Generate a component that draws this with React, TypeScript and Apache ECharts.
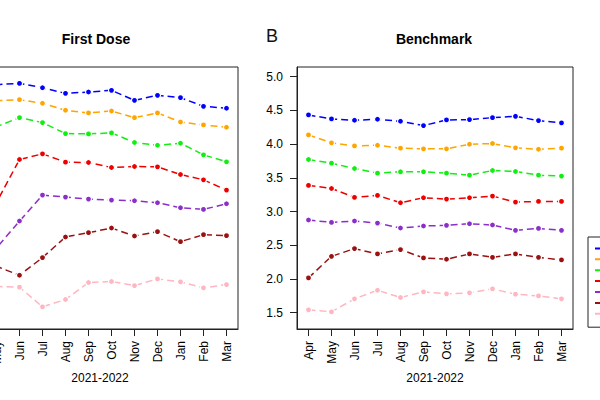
import React, { useEffect, useRef } from "react";
import * as echarts from "echarts";

const months = ["Apr", "May", "Jun", "Jul", "Aug", "Sep", "Oct", "Nov", "Dec", "Jan", "Feb", "Mar"];
const yTicks = [1.5, 2.0, 2.5, 3.0, 3.5, 4.0, 4.5, 5.0];
const groupNames = ["Group 1", "Group 2", "Group 3", "Group 4", "Group 5", "Group 6", "Group 7"];
const groupColors = ["#0000FF", "#FFA500", "#11EE11", "#EE0000", "#8B2FC9", "#991111", "#FFB6C1"];

// First Dose panel
const firstDose1 = [4.862, 4.882, 4.901, 4.837, 4.753, 4.773, 4.798, 4.650, 4.724, 4.689, 4.561, 4.532];
const firstDose2 = [4.630, 4.645, 4.660, 4.606, 4.502, 4.463, 4.492, 4.393, 4.463, 4.329, 4.285, 4.250];
const firstDose3 = [4.186, 4.260, 4.393, 4.320, 4.157, 4.152, 4.167, 4.024, 3.984, 4.014, 3.841, 3.738];
const firstDose4 = [2.929, 3.136, 3.772, 3.856, 3.733, 3.728, 3.654, 3.669, 3.664, 3.550, 3.471, 3.319];
const firstDose5 = [2.189, 2.461, 2.860, 3.245, 3.215, 3.185, 3.171, 3.161, 3.131, 3.057, 3.032, 3.116];
const firstDose6 = [2.239, 2.189, 2.056, 2.318, 2.623, 2.687, 2.756, 2.638, 2.702, 2.554, 2.658, 2.643];
const firstDose7 = [1.894, 1.889, 1.879, 1.588, 1.696, 1.948, 1.963, 1.903, 2.002, 1.958, 1.869, 1.918];

// Benchmark panel
const bench1 = [4.433, 4.374, 4.354, 4.369, 4.339, 4.275, 4.359, 4.364, 4.393, 4.413, 4.349, 4.315];
const bench2 = [4.137, 4.019, 3.974, 3.984, 3.940, 3.930, 3.930, 3.999, 4.009, 3.945, 3.925, 3.940];
const bench3 = [3.772, 3.718, 3.639, 3.570, 3.590, 3.590, 3.570, 3.540, 3.609, 3.595, 3.540, 3.526];
const bench4 = [3.388, 3.343, 3.210, 3.240, 3.131, 3.205, 3.185, 3.205, 3.230, 3.141, 3.151, 3.151];
const bench5 = [2.875, 2.840, 2.860, 2.830, 2.756, 2.786, 2.796, 2.820, 2.801, 2.722, 2.751, 2.722];
const bench6 = [2.017, 2.337, 2.451, 2.372, 2.436, 2.313, 2.293, 2.372, 2.322, 2.372, 2.322, 2.283];
const bench7 = [1.543, 1.514, 1.706, 1.834, 1.726, 1.810, 1.780, 1.795, 1.854, 1.775, 1.750, 1.706];

const firstDoseSets = [firstDose1, firstDose2, firstDose3, firstDose4, firstDose5, firstDose6, firstDose7];
const benchSets = [bench1, bench2, bench3, bench4, bench5, bench6, bench7];

const FONT = "'Liberation Sans', Arial, Helvetica, sans-serif";
const OFFSET = 60; // chart canvas starts 60px left of the page

export default function App() {
  const ref = useRef<HTMLDivElement>(null);

  useEffect(() => {
    if (!ref.current) return;
    const chart = echarts.init(ref.current, null, { renderer: "svg" });

    const makeX = (gridIndex: number) => ({
      type: "category",
      gridIndex,
      data: months,
      boundaryGap: true,
      axisLine: { show: true, lineStyle: { color: "#222", width: 1 } },
      axisTick: { show: true, alignWithLabel: true, length: 7, lineStyle: { color: "#222" } },
      axisLabel: {
        rotate: 90,
        margin: 12,
        fontSize: 12,
        color: "#000",
        fontFamily: FONT,
        // the left panel's first label lies wholly outside the picture
        interval: gridIndex === 0 ? (i: number) => i > 0 : 0,
      },
      name: "2021-2022",
      nameLocation: "middle",
      nameGap: 43,
      nameTextStyle: { fontSize: 12, color: "#000", fontFamily: FONT },
      splitLine: { show: false },
    });

    const makeY = (gridIndex: number, showLabels: boolean) => ({
      type: "value",
      gridIndex,
      min: 1.259,
      max: 5.144,
      axisLine: { show: true, lineStyle: { color: "#222", width: 1 } },
      axisTick: { show: true, length: 7, customValues: yTicks, lineStyle: { color: "#222" } },
      axisLabel: {
        show: showLabels,
        customValues: yTicks,
        formatter: (v: number) => v.toFixed(1),
        margin: 14,
        fontSize: 12,
        color: "#000",
        fontFamily: FONT,
      },
      splitLine: { show: false },
    });

    const makeSeries = (sets: number[][], axisIndex: number) =>
      sets.map((data, i) => ({
        type: "line",
        name: groupNames[i],
        xAxisIndex: axisIndex,
        yAxisIndex: axisIndex,
        data,
        color: groupColors[i],
        symbol: "circle",
        symbolSize: 6,
        showSymbol: true,
        itemStyle: { color: groupColors[i], borderColor: "#fff", borderWidth: 1.2 },
        lineStyle: { color: groupColors[i], width: 1.5, type: [7, 4] },
        emphasis: { disabled: true },
      }));

    chart.setOption({
      animation: false,
      backgroundColor: "#fff",
      textStyle: { fontFamily: FONT },
      grid: [
        { left: -38 + OFFSET, top: 67, width: 276, height: 262, show: true, borderColor: "#222", borderWidth: 1, backgroundColor: "transparent" },
        { left: 297 + OFFSET, top: 67, width: 276, height: 262, show: true, borderColor: "#222", borderWidth: 1, backgroundColor: "transparent" },
      ],
      xAxis: [makeX(0), makeX(1)],
      yAxis: [makeY(0, false), makeY(1, true)],
      legend: {
        orient: "vertical",
        left: 648,
        top: 237,
        padding: [6, 5, 8, 6],
        itemWidth: 60,
        itemHeight: 11,
        itemGap: 0.1,
        borderColor: "#222",
        borderWidth: 1,
        data: groupNames,
        formatter: () => "",
        textStyle: { fontSize: 9, lineHeight: 11, color: "#000", fontFamily: FONT },
        selectedMode: false,
      },
      graphic: [
        {
          type: "text",
          x: 96 + OFFSET,
          y: 39,
          style: { text: "First Dose", fontSize: 14, fontWeight: "bold", fontFamily: FONT, fill: "#000", textAlign: "center", textVerticalAlign: "middle" },
        },
        {
          type: "text",
          x: 434 + OFFSET,
          y: 39,
          style: { text: "Benchmark", fontSize: 14, fontWeight: "bold", fontFamily: FONT, fill: "#000", textAlign: "center", textVerticalAlign: "middle" },
        },
        {
          type: "text",
          x: 272 + OFFSET,
          y: 36,
          style: { text: "B", fontSize: 18, fontFamily: "'Liberation Sans Narrow', 'Liberation Sans', Arial, sans-serif", fill: "#111", textAlign: "center", textVerticalAlign: "middle" },
        },
      ],
      series: [...makeSeries(firstDoseSets, 0), ...makeSeries(benchSets, 1)],
    });

    return () => chart.dispose();
  }, []);

  return (
    <div
      ref={ref}
      style={{ position: "absolute", left: -OFFSET, top: 0, width: 600 + OFFSET, height: 400, background: "#fff" }}
    />
  );
}
